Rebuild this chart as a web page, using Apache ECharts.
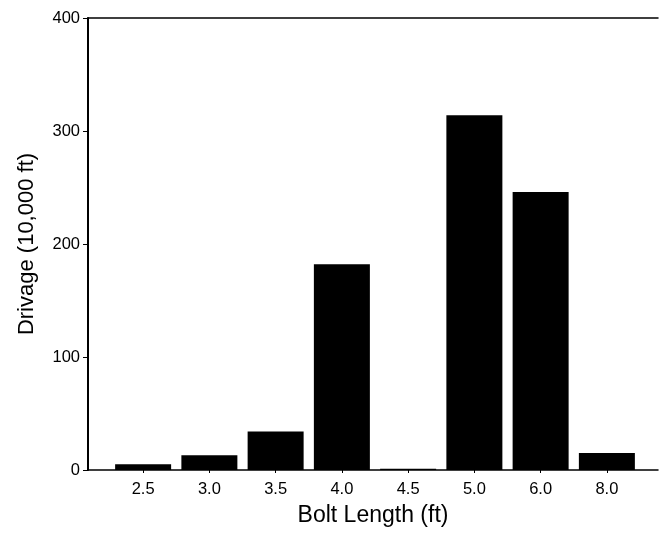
<!DOCTYPE html>
<html><head><meta charset="utf-8">
<script src="https://cdn.jsdelivr.net/npm/echarts@6/dist/echarts.min.js"></script>
<style>html,body{margin:0;padding:0;background:#fff}#c{width:659px;height:535px}</style>
</head><body><div id="c"></div>
<script>
const categories = ['2.5','3.0','3.5','4.0','4.5','5.0','6.0','8.0'];
const drivage = [5, 13, 34, 182, 1, 314, 246, 15];
const yTicks = [0, 100, 200, 300, 400];

const font = 'Liberation Sans, Arial, sans-serif';
const chart = echarts.init(document.getElementById('c'));
chart.setOption({
  animation: false,
  backgroundColor: '#fff',
  grid: [
    {left: 88, right: 1, top: 18, bottom: 65},
    {left: 110, width: 530, top: 18, bottom: 65}
  ],
  xAxis: [
    {gridIndex: 0, type: 'value', min: 0, max: 1, position: 'bottom',
     axisLine: {show: true, lineStyle: {color: '#000', width: 1.5}},
     axisTick: {show: false}, axisLabel: {show: false}, splitLine: {show: false},
     name: 'Bolt Length (ft)', nameLocation: 'middle', nameGap: 34,
     nameTextStyle: {fontFamily: font, fontSize: 23, color: '#000'}},
    {gridIndex: 0, type: 'value', min: 0, max: 1, position: 'top',
     axisLine: {show: true, lineStyle: {color: '#000', width: 1.5}},
     axisTick: {show: false}, axisLabel: {show: false}, splitLine: {show: false}},
    {gridIndex: 1, type: 'category', data: categories, boundaryGap: true,
     axisLine: {show: false},
     axisTick: {show: true, alignWithLabel: true, length: 3, lineStyle: {color: '#000'}},
     axisLabel: {fontFamily: font, fontSize: 16.5, color: '#000', margin: 11}}
  ],
  yAxis: [
    {gridIndex: 0, type: 'value', min: 0, max: 400, interval: 100,
     axisLine: {show: true, lineStyle: {color: '#000', width: 2}},
     axisTick: {show: true, length: 5, lineStyle: {color: '#000'}},
     axisLabel: {fontFamily: font, fontSize: 16.5, color: '#000', margin: 8,
       formatter: v => yTicks.includes(v) ? String(v) : ''},
     splitLine: {show: false},
     name: 'Drivage (10,000 ft)', nameLocation: 'middle', nameGap: 50,
     nameTextStyle: {fontFamily: font, fontSize: 22, color: '#000'}},
    {gridIndex: 1, type: 'value', min: 0, max: 400, show: false}
  ],
  series: [{
    type: 'bar', xAxisIndex: 2, yAxisIndex: 1, data: drivage,
    barWidth: 56, itemStyle: {color: '#000'}
  }]
});
</script></body></html>
